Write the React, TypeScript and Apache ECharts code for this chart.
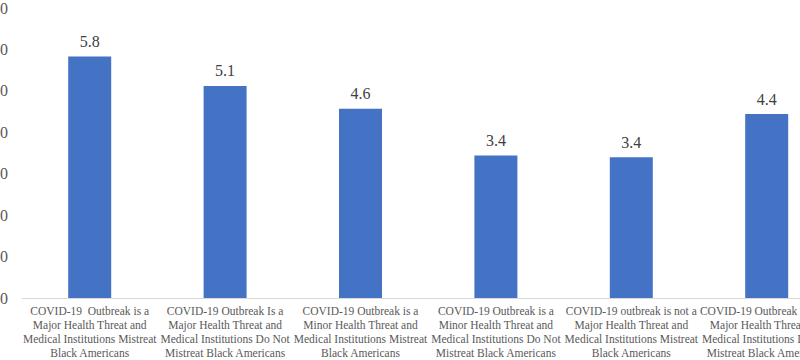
import React, { useEffect, useRef } from "react";
import * as echarts from "echarts";

const categories: string[] = [
  "COVID-19  Outbreak is a\nMajor Health Threat and\nMedical Institutions Mistreat\nBlack Americans",
  "COVID-19 Outbreak Is a\nMajor Health Threat and\nMedical Institutions Do Not\nMistreat Black Americans",
  "COVID-19 Outbreak is a\nMinor Health Threat and\nMedical Institutions Mistreat\nBlack Americans",
  "COVID-19 Outbreak is a\nMinor Health Threat and\nMedical Institutions Do Not\nMistreat Black Americans",
  "COVID-19 outbreak is not a\nMajor Health Threat and\nMedical Institutions Mistreat\nBlack Americans",
  "COVID-19 Outbreak is not a\nMajor Health Threat and\nMedical Institutions Do Not\nMistreat Black Americans",
];

const values: number[] = [5.83, 5.12, 4.57, 3.44, 3.4, 4.44];

const yTicks: string[] = ["0.0", "1.0", "2.0", "3.0", "4.0", "5.0", "6.0", "7.0"];

export default function App() {
  const ref = useRef<HTMLDivElement>(null);
  useEffect(() => {
    if (!ref.current) return;
    const chart = echarts.init(ref.current, null, { renderer: "svg" });
    chart.setOption({
      animation: false,
      textStyle: { fontFamily: "Liberation Serif" },
      grid: { left: 62, top: 6.2, bottom: 57, right: 25.6, containLabel: false },
      xAxis: {
        type: "category",
        data: categories,
        axisLine: { lineStyle: { color: "#d9d9d9", width: 1 } },
        axisTick: { show: false },
        axisLabel: {
          interval: 0,
          margin: 6,
          fontSize: 11.5,
          lineHeight: 14,
          color: "#595959",
          fontFamily: "Liberation Serif",
          align: "center",
        },
      },
      yAxis: {
        type: "value",
        min: 0,
        max: 7,
        interval: 1,
        axisLine: { show: false },
        axisTick: { show: false },
        splitLine: { show: false },
        axisLabel: {
          margin: 14,
          fontSize: 16,
          color: "#595959",
          fontFamily: "Liberation Serif",
          formatter: (v: number) => yTicks[Math.round(v)] ?? "",
        },
      },
      series: [
        {
          type: "bar",
          data: values,
          barWidth: 43,
          itemStyle: { color: "#4472C4" },
          label: {
            show: true,
            position: "top",
            distance: 7,
            fontSize: 16,
            color: "#404040",
            fontFamily: "Liberation Serif",
            formatter: (p: any) => Number(p.value).toFixed(1),
          },
        },
      ],
    });
    return () => chart.dispose();
  }, []);
  return (
    <div
      style={{
        position: "fixed",
        left: 0,
        top: 0,
        width: 800,
        height: 360,
        overflow: "hidden",
        background: "#ffffff",
      }}
    >
      <div ref={ref} style={{ position: "absolute", left: -40, top: 0, width: 900, height: 360 }} />
    </div>
  );
}
